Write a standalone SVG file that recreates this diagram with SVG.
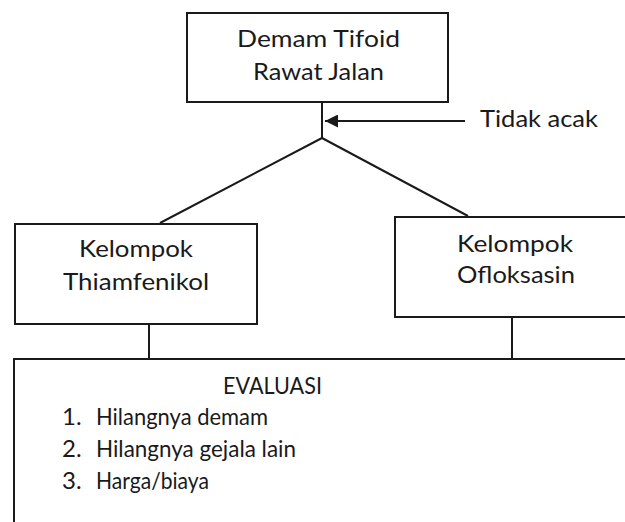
<svg xmlns="http://www.w3.org/2000/svg" width="625" height="522" viewBox="0 0 625 522">
<defs>
<style>
.box{fill:#fff;stroke:#1a1a1a;stroke-width:2}
.ln{fill:none;stroke:#1a1a1a;stroke-width:2}
text{font-family:Lato,"Open Sans",sans-serif;font-size:24px;fill:#1a1a1a}
.c{text-anchor:middle}
</style>
<marker id="ah" viewBox="0 0 10 10" refX="10" refY="5" markerWidth="13" markerHeight="13" markerUnits="userSpaceOnUse" orient="auto">
<path d="M0,0 L10,5 L0,10 z" fill="#1a1a1a"/>
</marker>
</defs>
<g id="connectors">
<line class="ln" x1="322" y1="102" x2="322" y2="138"/>
<line class="ln" x1="465" y1="121" x2="325" y2="121" marker-end="url(#ah)"/>
<polyline class="ln" points="160,223 322,138 468,216"/>
<line class="ln" x1="149" y1="324" x2="149" y2="359"/>
<line class="ln" x1="512" y1="317" x2="512" y2="359"/>
</g>
<g id="top">
<rect class="box" x="187" y="13" width="261" height="89"/>
<text class="c" x="318.5" y="47" textLength="163" lengthAdjust="spacingAndGlyphs">Demam Tifoid</text>
<text class="c" x="318.5" y="80" textLength="131" lengthAdjust="spacingAndGlyphs">Rawat Jalan</text>
</g>
<g id="tidak-acak">
<text x="480" y="127" textLength="118" lengthAdjust="spacingAndGlyphs">Tidak acak</text>
</g>
<g id="thiamfenikol">
<rect class="box" x="15" y="224" width="242" height="100"/>
<text class="c" x="136" y="257" textLength="114" lengthAdjust="spacingAndGlyphs">Kelompok</text>
<text class="c" x="136" y="290" textLength="146" lengthAdjust="spacingAndGlyphs">Thiamfenikol</text>
</g>
<g id="ofloksasin">
<rect class="box" x="395" y="217" width="245" height="100"/>
<text class="c" x="515" y="252" textLength="116" lengthAdjust="spacingAndGlyphs">Kelompok</text>
<text class="c" x="516" y="283" textLength="118" lengthAdjust="spacingAndGlyphs">Ofloksasin</text>
</g>
<g id="evaluasi">
<rect class="box" x="14" y="359" width="640" height="200"/>
<text class="c" x="272.5" y="394" textLength="99" lengthAdjust="spacingAndGlyphs">EVALUASI</text>
<text x="62" y="425">1.</text><text x="96" y="425" textLength="172" lengthAdjust="spacingAndGlyphs">Hilangnya demam</text>
<text x="62" y="457">2.</text><text x="96" y="457" textLength="200" lengthAdjust="spacingAndGlyphs">Hilangnya gejala lain</text>
<text x="62" y="489">3.</text><text x="96" y="489" textLength="113" lengthAdjust="spacingAndGlyphs">Harga/biaya</text>
</g>
</svg>
